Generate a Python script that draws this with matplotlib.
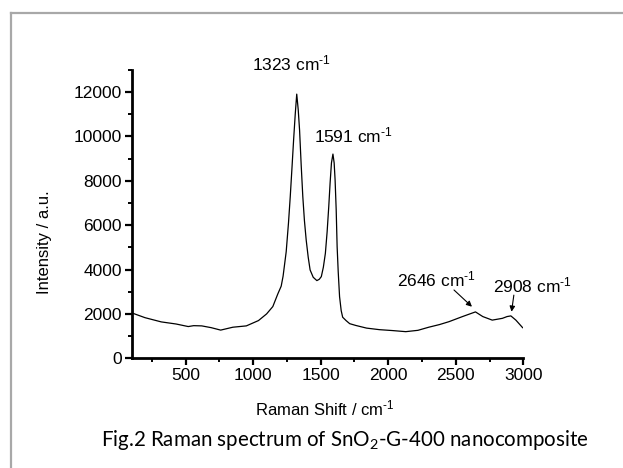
import matplotlib
matplotlib.use("Agg")
import matplotlib.pyplot as plt
from matplotlib.lines import Line2D
from matplotlib.ticker import MultipleLocator

plt.rcParams['font.family'] = ['Liberation Sans', 'DejaVu Sans']
plt.rcParams['mathtext.fontset'] = 'custom'
plt.rcParams['mathtext.rm'] = 'Liberation Sans'
plt.rcParams['mathtext.it'] = 'Liberation Sans:italic'
plt.rcParams['mathtext.bf'] = 'Liberation Sans:bold'

# Raman spectrum of SnO2-G-400 (shift in cm^-1, intensity in a.u.)
raman_shift = [100, 200, 320, 430, 520, 560, 620, 690, 760, 850, 950, 1040,
               1100, 1146, 1183, 1208, 1222, 1245, 1262, 1275, 1288, 1300,
               1312, 1323, 1334, 1344, 1356, 1368, 1380, 1393, 1408, 1422,
               1445, 1472, 1490, 1505, 1520, 1535, 1548, 1560, 1570, 1580,
               1591, 1600, 1607, 1615, 1622, 1630, 1640, 1652, 1663, 1688,
               1715, 1760, 1840, 1935, 2030, 2130, 2220, 2300, 2380, 2450,
               2550, 2600, 2646, 2700, 2770, 2845, 2880, 2908, 2945, 2995]
intensity = [2050, 1830, 1640, 1545, 1430, 1470, 1460, 1380, 1270, 1400, 1460, 1700,
             2000, 2330, 2900, 3250, 3700, 4800, 6100, 7280, 8600, 9850,
             11000, 11900, 11200, 10280, 8700, 7280, 6200, 5330, 4550, 3980,
             3650, 3500, 3560, 3680, 4100, 4730, 5700, 6830, 7900, 8800,
             9200, 8800, 8030, 6700, 5030, 3900, 2780, 2150, 1850, 1700,
             1560, 1480, 1360, 1290, 1250, 1200, 1260, 1400, 1520, 1650,
             1880, 1990, 2090, 1880, 1720, 1800, 1880, 1910, 1720, 1380]

peak_labels = ["1323", "1591", "2646", "2908"]

W, H = 623, 468
fig = plt.figure(figsize=(W / 100, H / 100), dpi=100)
ax = fig.add_axes([131.5 / W, 1 - 358.3 / H, (523.3 - 131.5) / W, (358.3 - 69.7) / H])

ax.plot(raman_shift, intensity, color='black', lw=0.9)
ax.set_xlim(100, 3000)
ax.set_ylim(0, 13000)

ax.xaxis.set_major_locator(MultipleLocator(500))
ax.xaxis.set_minor_locator(MultipleLocator(250))
ax.yaxis.set_major_locator(MultipleLocator(2000))
ax.yaxis.set_minor_locator(MultipleLocator(1000))

for side in ('top', 'right'):
    ax.spines[side].set_visible(False)
for side in ('left', 'bottom'):
    ax.spines[side].set_linewidth(2.0)

ax.tick_params(which='major', direction='out', length=5, width=1.6,
               labelsize=12.5, pad=2)
ax.tick_params(which='minor', direction='out', length=3, width=1.4)

inv = r'cm$^{\mathregular{‐1}}$'

# axis labels
fig.text(325 / W, 1 - 408 / H, 'Raman Shift / ' + inv, ha='center', va='center',
         fontsize=12)
fig.text(45 / W, 1 - 242 / H, 'Intensity / a.u.', ha='center', va='center',
         rotation=90, fontsize=12)

# peak labels
ax.text(1284, 13300, f'{peak_labels[0]} ' + inv, ha='center', va='center',
        fontsize=12.5, clip_on=False)
ax.text(1742, 10060, f'{peak_labels[1]} ' + inv, ha='center', va='center',
        fontsize=12.5)
ax.text(2355, 3572, f'{peak_labels[2]} ' + inv, ha='center', va='center',
        fontsize=12.5)
ax.text(3070, 3300, f'{peak_labels[3]} ' + inv, ha='center', va='center',
        fontsize=12.5, clip_on=False)

arrow_kw = dict(arrowstyle='-|>', color='black', lw=0.8, mutation_scale=8,
                shrinkA=0, shrinkB=0)
ax.annotate('', xy=(2620, 2324), xytext=(2487, 3077), arrowprops=arrow_kw)
ax.annotate('', xy=(2913, 2099), xytext=(2930, 2846), arrowprops=arrow_kw)

# caption
fig.text(345 / W, 1 - 440 / H,
         r'Fig.2 Raman spectrum of SnO$_\mathregular{2}$-G-400 nanocomposite',
         ha='center', va='center', fontsize=14.8, family=['Lato', 'DejaVu Sans'])

# page frame
frame_kw = dict(color='#a8a8a8', lw=1.6, transform=None)
fig.add_artist(Line2D([10.5, W + 5], [H - 12.5, H - 12.5], **frame_kw))
fig.add_artist(Line2D([10.5, 10.5], [-5, H - 12.5], **frame_kw))

fig.savefig('out.png', dpi=100)
